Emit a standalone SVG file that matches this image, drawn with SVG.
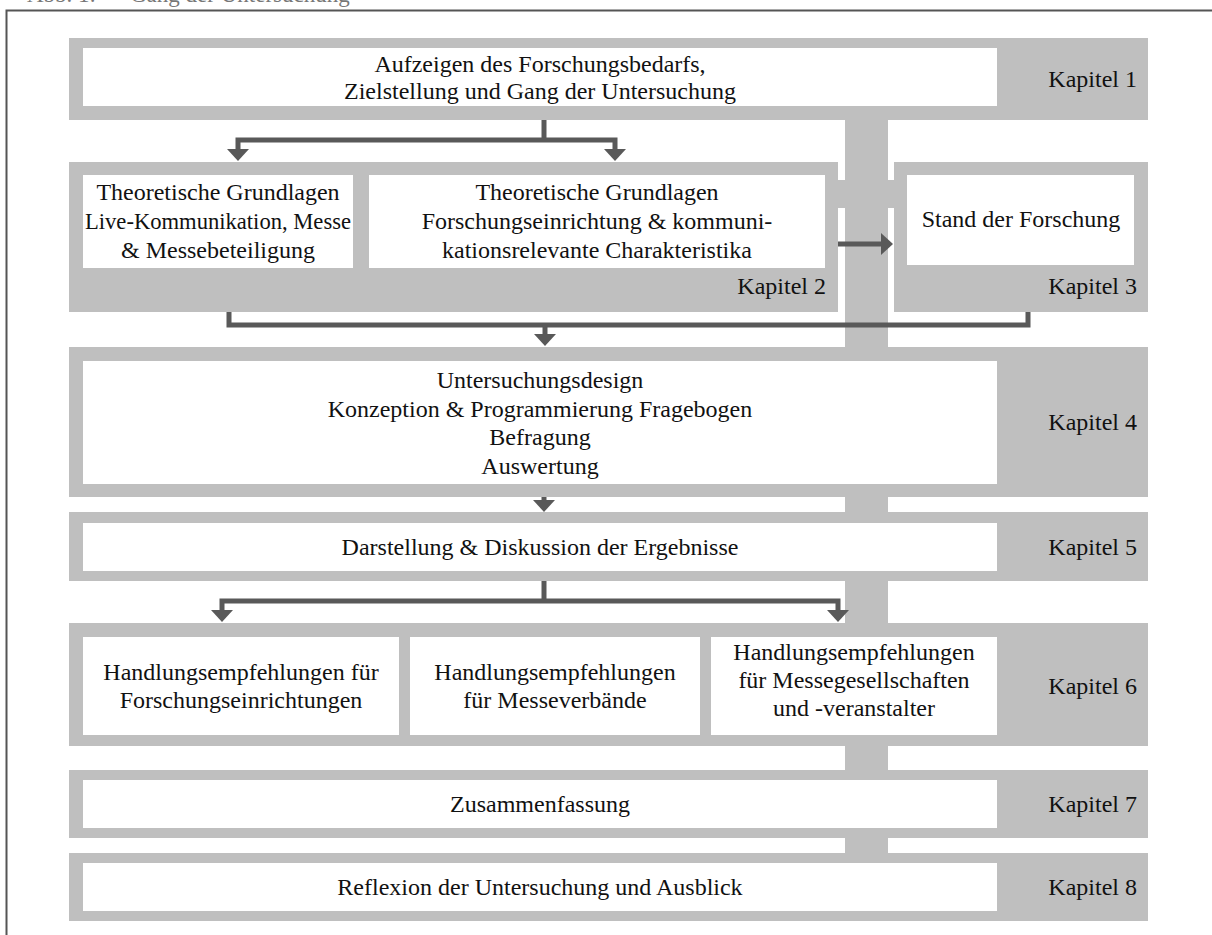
<svg xmlns="http://www.w3.org/2000/svg" width="1212" height="935" viewBox="0 0 1212 935">
  <style>
    .band { fill: #bfbfbf; }
    .box { fill: #ffffff; }
    .t { font-family: "Liberation Serif", "Times New Roman", serif; font-size: 24px; fill: #111111; text-anchor: middle; }
    .k { font-family: "Liberation Serif", "Times New Roman", serif; font-size: 24px; fill: #111111; text-anchor: end; }
    .cap { font-family: "Liberation Serif", "Times New Roman", serif; font-size: 23px; fill: #777777; }
    .conn { fill: none; stroke: #595959; stroke-width: 5; stroke-linejoin: miter; }
  </style>
  <defs>
    <marker id="head" markerUnits="userSpaceOnUse" viewBox="0 0 12 22" markerWidth="12" markerHeight="22" refX="1" refY="11" orient="auto-start-reverse">
      <path d="M0,0 L12,11 L0,22 z" fill="#595959"/>
    </marker>
  </defs>

  <rect width="1212" height="935" fill="#ffffff"/>

  <!-- caption, clipped by the top edge -->
  <text class="cap" y="2"><tspan x="27">Abb. 1:</tspan><tspan x="130">Gang der Untersuchung</tspan></text>

  <!-- frame -->
  <rect x="6.5" y="10.5" width="1220" height="940" fill="none" stroke="#555555" stroke-width="2"/>

  <!-- vertical spine and the bridge between chapters 2 and 3 -->
  <g id="spine">
    <rect class="band" x="845" y="118" width="43" height="737"/>
    <rect class="band" x="836" y="180" width="60" height="28"/>
  </g>

  <g id="kapitel1">
    <rect class="band" x="69" y="38" width="1079" height="82"/>
    <rect class="box" x="83" y="48" width="914" height="58"/>
    <text class="t" x="540" y="72">Aufzeigen des Forschungsbedarfs,</text>
    <text class="t" x="540" y="99">Zielstellung und Gang der Untersuchung</text>
    <text class="k" x="1137" y="87">Kapitel 1</text>
  </g>

  <g id="kapitel2">
    <rect class="band" x="69" y="162" width="769" height="150"/>
    <g id="grundlagen-live">
      <rect class="box" x="83" y="175" width="270" height="93"/>
      <text class="t" x="218" y="200">Theoretische Grundlagen</text>
      <text class="t" x="218" y="229" textLength="266" lengthAdjust="spacingAndGlyphs">Live-Kommunikation, Messe</text>
      <text class="t" x="218" y="258">&amp; Messebeteiligung</text>
    </g>
    <g id="grundlagen-forschung">
      <rect class="box" x="369" y="175" width="456" height="93"/>
      <text class="t" x="597" y="200">Theoretische Grundlagen</text>
      <text class="t" x="597" y="229">Forschungseinrichtung &amp; kommuni-</text>
      <text class="t" x="597" y="258">kationsrelevante Charakteristika</text>
    </g>
    <text class="k" x="826" y="294">Kapitel 2</text>
  </g>

  <g id="kapitel3">
    <rect class="band" x="894" y="162" width="254" height="150"/>
    <rect class="box" x="907" y="175" width="227" height="90"/>
    <text class="t" x="1021" y="227">Stand der Forschung</text>
    <text class="k" x="1137" y="294">Kapitel 3</text>
  </g>

  <g id="kapitel4">
    <rect class="band" x="69" y="347" width="1079" height="150"/>
    <rect class="box" x="83" y="361" width="914" height="123"/>
    <text class="t" x="540" y="388">Untersuchungsdesign</text>
    <text class="t" x="540" y="417">Konzeption &amp; Programmierung Fragebogen</text>
    <text class="t" x="540" y="445">Befragung</text>
    <text class="t" x="540" y="474">Auswertung</text>
    <text class="k" x="1137" y="430">Kapitel 4</text>
  </g>

  <g id="kapitel5">
    <rect class="band" x="69" y="512" width="1079" height="69"/>
    <rect class="box" x="83" y="523" width="914" height="48"/>
    <text class="t" x="540" y="555">Darstellung &amp; Diskussion der Ergebnisse</text>
    <text class="k" x="1137" y="555">Kapitel 5</text>
  </g>

  <g id="kapitel6">
    <rect class="band" x="69" y="623" width="1079" height="123"/>
    <g id="empf-forschung">
      <rect class="box" x="83" y="637" width="316" height="98"/>
      <text class="t" x="241" y="680">Handlungsempfehlungen für</text>
      <text class="t" x="241" y="708">Forschungseinrichtungen</text>
    </g>
    <g id="empf-verbaende">
      <rect class="box" x="410" y="637" width="290" height="98"/>
      <text class="t" x="555" y="680">Handlungsempfehlungen</text>
      <text class="t" x="555" y="708">für Messeverbände</text>
    </g>
    <g id="empf-gesellschaften">
      <rect class="box" x="711" y="637" width="286" height="98"/>
      <text class="t" x="854" y="660">Handlungsempfehlungen</text>
      <text class="t" x="854" y="688">für Messegesellschaften</text>
      <text class="t" x="854" y="716">und -veranstalter</text>
    </g>
    <text class="k" x="1137" y="694">Kapitel 6</text>
  </g>

  <g id="kapitel7">
    <rect class="band" x="69" y="770" width="1079" height="68"/>
    <rect class="box" x="83" y="780" width="914" height="48"/>
    <text class="t" x="540" y="812">Zusammenfassung</text>
    <text class="k" x="1137" y="812">Kapitel 7</text>
  </g>

  <g id="kapitel8">
    <rect class="band" x="69" y="853" width="1079" height="68"/>
    <rect class="box" x="83" y="863" width="914" height="48"/>
    <text class="t" x="540" y="895">Reflexion der Untersuchung und Ausblick</text>
    <text class="k" x="1137" y="895">Kapitel 8</text>
  </g>

  <g id="connectors">
    <path class="conn" d="M544,120 V141"/>
    <path class="conn" d="M238,150 V140 H615 V150" marker-start="url(#head)" marker-end="url(#head)"/>
    <path class="conn" d="M838,244 H882" marker-end="url(#head)"/>
    <path class="conn" d="M229,312 V325 H1028 V312"/>
    <path class="conn" d="M545,325 V335" marker-end="url(#head)"/>
    <path class="conn" d="M544,497 V501" marker-end="url(#head)"/>
    <path class="conn" d="M544,581 V602"/>
    <path class="conn" d="M222,611 V601 H838 V611" marker-start="url(#head)" marker-end="url(#head)"/>
  </g>
</svg>
